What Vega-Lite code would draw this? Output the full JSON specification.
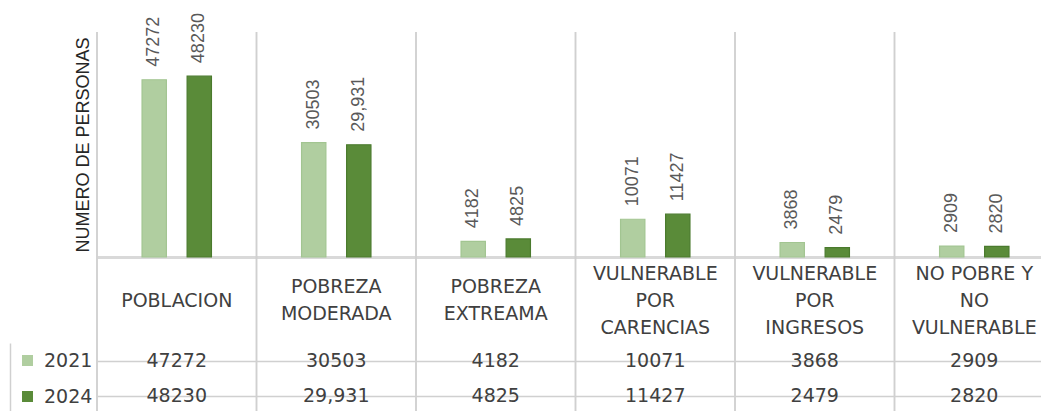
{
  "$schema": "https://vega.github.io/schema/vega-lite/v6.json",
  "width": 1031,
  "height": 411,
  "autosize": "none",
  "padding": {"left": 10, "top": 0, "right": 0, "bottom": 0},
  "background": "white",
  "config": {"view": {"stroke": null}, "font": "DejaVu Sans"},
  "data": {
    "values": [
      {"cat": "POBLACION", "year": "2021", "value": 47272, "label": "47272"},
      {"cat": "POBLACION", "year": "2024", "value": 48230, "label": "48230"},
      {"cat": "POBREZA MODERADA", "year": "2021", "value": 30503, "label": "30503"},
      {"cat": "POBREZA MODERADA", "year": "2024", "value": 29931, "label": "29,931"},
      {"cat": "POBREZA EXTREAMA", "year": "2021", "value": 4182, "label": "4182"},
      {"cat": "POBREZA EXTREAMA", "year": "2024", "value": 4825, "label": "4825"},
      {"cat": "VULNERABLE POR CARENCIAS", "year": "2021", "value": 10071, "label": "10071"},
      {"cat": "VULNERABLE POR CARENCIAS", "year": "2024", "value": 11427, "label": "11427"},
      {"cat": "VULNERABLE POR INGRESOS", "year": "2021", "value": 3868, "label": "3868"},
      {"cat": "VULNERABLE POR INGRESOS", "year": "2024", "value": 2479, "label": "2479"},
      {"cat": "NO POBRE Y NO VULNERABLE", "year": "2021", "value": 2909, "label": "2909"},
      {"cat": "NO POBRE Y NO VULNERABLE", "year": "2024", "value": 2820, "label": "2820"}
    ]
  },
  "layer": [
    {
      "layer": [
        {
          "mark": {"type": "rule", "color": "#d0d0d0", "strokeWidth": 1.5},
          "encoding": {
            "x": {
              "field": "cat", "type": "nominal", "sort": null, "bandPosition": 0,
              "scale": {"range": [87, 1044], "paddingInner": 0, "paddingOuter": 0},
              "axis": {
                "orient": "bottom", "offset": -154, "title": null,
                "domain": true, "domainColor": "#d9d9d9", "domainWidth": 3,
                "ticks": false, "tickSize": 0, "grid": false,
                "labelPadding": {
                  "condition": [
                    {"test": "datum.label == 'POBLACION'", "value": 43},
                    {"test": "indexof(datum.label, 'POBREZA') == 0", "value": 29}
                  ],
                  "value": 16
                },
                "labelBaseline": "middle", "labelAngle": 0,
                "labelFont": "DejaVu Sans", "labelFontSize": 19, "labelColor": "#404040",
                "labelLineHeight": 27, "labelOverlap": false, "labelBound": false, "labelLimit": 400,
                "labelExpr": "datum.label == 'NO POBRE Y NO VULNERABLE' ? ['NO POBRE Y', 'NO', 'VULNERABLE'] : split(datum.label, ' ')"
              }
            },
            "y": {"datum": 60000, "scale": {"domain": [0, 60000], "range": [257, 32], "nice": false}},
            "y2": {"datum": -41100}
          }
        },
        {
          "mark": {"type": "bar", "strokeWidth": 1.2},
          "encoding": {
            "x": {"field": "cat", "type": "nominal", "sort": null, "scale": {"range": [87, 1044], "paddingInner": 0, "paddingOuter": 0}},
            "xOffset": {"field": "year", "type": "nominal", "scale": {"paddingInner": 0.46, "paddingOuter": 1.152}},
            "y": {
              "field": "value", "type": "quantitative",
              "scale": {"domain": [0, 60000], "range": [257, 32], "nice": false},
              "axis": {
                "orient": "left", "offset": -87, "domain": false, "ticks": false, "labels": false, "grid": false,
                "title": "NUMERO DE PERSONAS", "titleFont": "Liberation Sans", "titleFontSize": 18,
                "titleFontWeight": "normal", "titleColor": "#262626", "titlePadding": 5
              }
            },
            "color": {
              "field": "year", "type": "nominal",
              "scale": {"domain": ["2021", "2024"], "range": ["#B0CEA0", "#5A8B39"]},
              "legend": {
                "orient": "none", "legendX": 8, "legendY": 351, "direction": "vertical", "title": null,
                "symbolType": "square", "symbolSize": 121, "symbolStrokeWidth": 0,
                "labelFont": "DejaVu Sans", "labelFontSize": 19, "labelColor": "#404040",
                "labelOffset": 7, "rowPadding": 16, "padding": 0
              }
            },
            "stroke": {
              "field": "year", "type": "nominal",
              "scale": {"domain": ["2021", "2024"], "range": ["#A2C591", "#4A7A2D"]},
              "legend": null
            }
          }
        },
        {
          "mark": {"type": "text", "angle": 270, "align": "left", "baseline": "middle", "dx": 13, "font": "Liberation Sans", "fontSize": 18, "color": "#595959"},
          "encoding": {
            "x": {"field": "cat", "type": "nominal", "sort": null, "scale": {"range": [87, 1044], "paddingInner": 0, "paddingOuter": 0}},
            "xOffset": {"field": "year", "type": "nominal", "scale": {"paddingInner": 0.46, "paddingOuter": 1.152}},
            "y": {"field": "value", "type": "quantitative", "scale": {"domain": [0, 60000], "range": [257, 32], "nice": false}},
            "text": {"field": "label"}
          }
        }
      ]
    },
    {
      "mark": {"type": "text", "font": "DejaVu Sans", "fontSize": 19, "color": "#404040", "baseline": "middle"},
      "encoding": {
        "x": {"field": "cat", "type": "nominal", "sort": null, "scale": {"range": [87, 1044], "paddingInner": 0, "paddingOuter": 0}},
        "y": {
          "field": "year", "type": "nominal",
          "scale": {"range": [343, 413], "paddingInner": 0, "paddingOuter": 0},
          "axis": {
            "orient": "left", "title": null, "labels": false, "ticks": false,
            "domain": true, "domainColor": "#d0d0d0", "domainWidth": 1.5,
            "grid": true, "gridColor": "#d0d0d0", "gridWidth": 1.5, "bandPosition": 0
          }
        },
        "text": {"field": "label"}
      }
    }
  ],
  "resolve": {"scale": {"y": "independent"}}
}
